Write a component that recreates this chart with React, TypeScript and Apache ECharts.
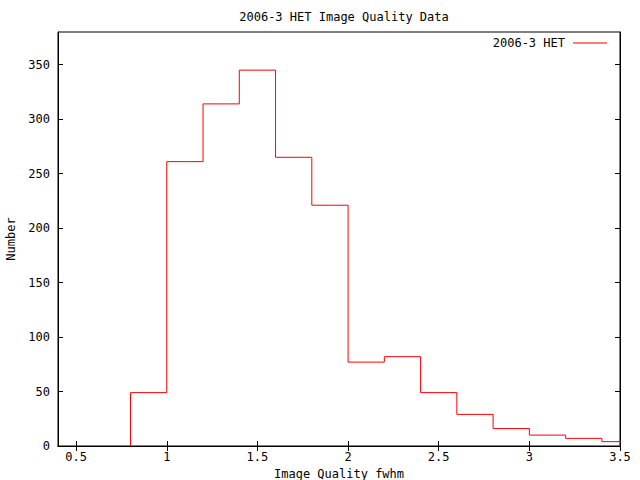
import React, { useEffect, useRef } from "react";
import * as echarts from "echarts";

const binStarts = [0.8, 1.0, 1.2, 1.4, 1.6, 1.8, 2.0, 2.2, 2.4, 2.6, 2.8, 3.0, 3.2, 3.4];
const counts = [49, 261, 314, 345, 265, 221, 77, 82, 49, 29, 16, 10, 7, 4];
const binWidth = 0.2;
const xTicks = [0.5, 1, 1.5, 2, 2.5, 3, 3.5];
const yTicks = [0, 50, 100, 150, 200, 250, 300, 350];
const seriesName = "2006-3 HET";
const titleText = "2006-3 HET Image Quality Data";
const xName = "Image Quality fwhm";
const yName = "Number";

const FONT = "DejaVu Sans Mono";

export default function App() {
  const ref = useRef<HTMLDivElement>(null);
  useEffect(() => {
    if (!ref.current) return;
    const chart = echarts.init(ref.current, null, { renderer: "svg" });
    const data: [number, number][] = [[binStarts[0], 0]];
    binStarts.forEach((x, i) => data.push([x, counts[i]]));
    const lastX = binStarts[binStarts.length - 1] + binWidth;
    data.push([lastX, counts[counts.length - 1]]);

    const txt = { fontFamily: FONT, fontSize: 12, color: "#000" };
    const axisCommon = {
      axisLine: { show: true, lineStyle: { color: "#000", width: 1 } },
      splitLine: { show: false },
    };
    chart.setOption({
      animation: false,
      backgroundColor: "#fff",
      title: {
        text: titleText,
        left: 339,
        textAlign: "center",
        top: 6,
        textStyle: { ...txt, fontWeight: "normal" },
      },
      legend: {
        show: true,
        right: 33,
        top: 36,
        padding: 0,
        align: "right",
        icon: "rect",
        itemWidth: 34,
        itemHeight: 1,
        itemGap: 0,
        textStyle: { ...txt, lineHeight: 14, padding: [0, 3, 0, 0] },
        itemStyle: { color: "#ff0000" },
        data: [seriesName],
      },
      grid: {
        left: 58,
        right: 20,
        top: 32,
        bottom: 34,
        show: true,
        borderColor: "#000",
        borderWidth: 1,
        containLabel: false,
        outerBoundsMode: "none",
      },
      xAxis: [
        {
          type: "value",
          min: 0.4,
          max: 3.5,
          position: "bottom",
          ...axisCommon,
          axisTick: { show: true, inside: true, length: 5, customValues: xTicks, lineStyle: { color: "#000" } },
          axisLabel: { show: true, customValues: xTicks, margin: 5, ...txt },
          name: xName,
          nameLocation: "middle",
          nameGap: 21,
          nameTextStyle: { ...txt, verticalAlign: "top", lineHeight: 12 },
        },
        {
          type: "value",
          min: 0.4,
          max: 3.5,
          position: "top",
          ...axisCommon,
          axisTick: { show: true, inside: true, length: 5, customValues: xTicks, lineStyle: { color: "#000" } },
          axisLabel: { show: false },
        },
      ],
      yAxis: [
        {
          type: "value",
          min: 0,
          max: 380,
          position: "left",
          ...axisCommon,
          axisTick: { show: true, inside: true, length: 5, customValues: yTicks, lineStyle: { color: "#000" } },
          axisLabel: { show: true, customValues: yTicks, margin: 8, ...txt },
          name: yName,
          nameLocation: "middle",
          nameGap: 40,
          nameRotate: 90,
          nameTextStyle: { ...txt },
        },
        {
          type: "value",
          min: 0,
          max: 380,
          position: "right",
          ...axisCommon,
          axisTick: { show: true, inside: true, length: 5, customValues: yTicks, lineStyle: { color: "#000" } },
          axisLabel: { show: false },
        },
      ],
      series: [
        {
          name: seriesName,
          type: "line",
          step: "end",
          data,
          symbol: "none",
          clip: true,
          color: "#ff0000",
          lineStyle: { color: "#ff0000", width: 1 },
          itemStyle: { color: "#ff0000" },
          xAxisIndex: 0,
          yAxisIndex: 0,
        },
      ],
    });
    return () => chart.dispose();
  }, []);
  return <div ref={ref} style={{ position: "fixed", left: 0, top: 0, width: 640, height: 480 }} />;
}
